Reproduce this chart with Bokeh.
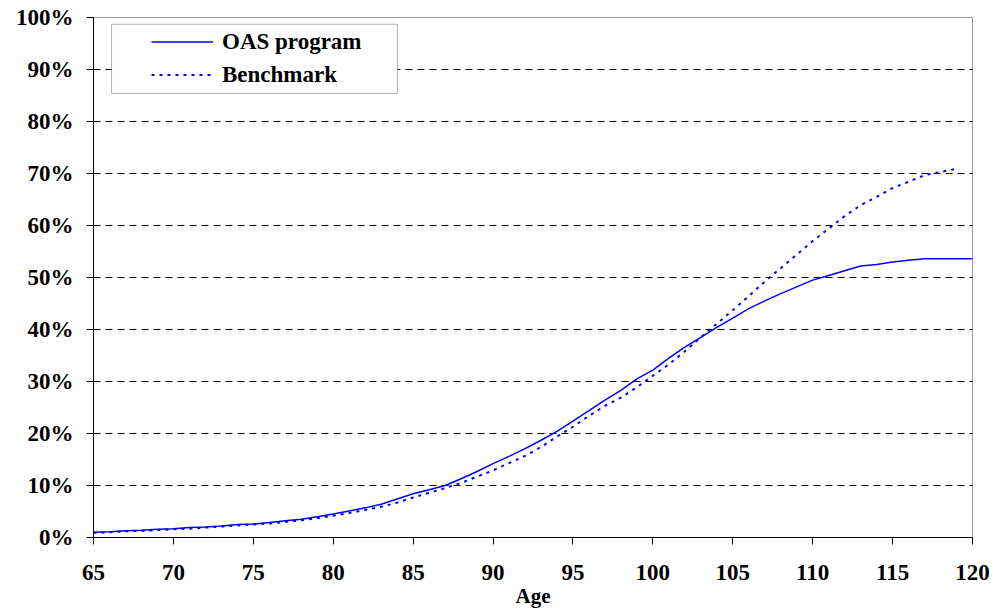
from bokeh.plotting import figure
from bokeh.models import Range1d, FixedTicker, PrintfTickFormatter, Legend, LegendItem, BoxAnnotation
from bokeh.embed import file_html
from bokeh.resources import INLINE

ages_oas = list(range(65, 121))
oas_program = [1.0, 1.1, 1.3, 1.4, 1.6, 1.7, 1.9, 2.0, 2.2, 2.5,
               2.6, 2.9, 3.2, 3.5, 4.0, 4.5, 5.1, 5.7, 6.4, 7.4,
               8.4, 9.2, 10.0, 11.3, 12.7, 14.2, 15.6, 17.1, 18.7, 20.4,
               22.4, 24.4, 26.4, 28.3, 30.5, 32.2, 34.5, 36.6, 38.5, 40.4,
               42.2, 44.0, 45.5, 46.9, 48.2, 49.5, 50.4, 51.3, 52.2, 52.5,
               53.0, 53.3, 53.6, 53.6, 53.6, 53.6]

ages_bench = list(range(65, 120))
benchmark = [0.9, 1.0, 1.2, 1.3, 1.4, 1.6, 1.7, 1.9, 2.1, 2.3,
             2.5, 2.7, 3.0, 3.3, 3.7, 4.2, 4.7, 5.3, 5.9, 6.7,
             7.7, 8.6, 9.5, 10.5, 11.7, 12.9, 14.3, 15.7, 17.4, 19.4,
             21.3, 23.4, 25.3, 26.9, 28.9, 31.1, 33.3, 35.8, 38.5, 41.1,
             43.7, 46.4, 49.2, 51.8, 54.4, 57.0, 59.4, 61.8, 63.9, 65.5,
             67.2, 68.4, 69.7, 70.3, 70.9]

x_ticks = list(range(65, 121, 5))
y_ticks = list(range(0, 101, 10))
series_names = ["OAS program", "Benchmark"]
x_title = "Age"

FONT = "'Liberation Serif'"
BLUE = "#0000FF"

p = figure(width=993, height=610, output_backend="svg", toolbar_location=None,
           x_range=Range1d(65, 120), y_range=Range1d(0, 100),
           min_border_left=93, min_border_right=21, min_border_top=17, min_border_bottom=73)
p.background_fill_color = "white"
p.border_fill_color = "white"
p.outline_line_color = "#999999"
p.outline_line_width = 1

# grid
p.xgrid.visible = False
p.ygrid.ticker = FixedTicker(ticks=y_ticks[1:-1])
p.ygrid.grid_line_color = "black"
p.ygrid.grid_line_dash = "7 5"
p.ygrid.grid_line_width = 1

# axes
for ax in (p.xaxis[0], p.yaxis[0]):
    ax.axis_line_color = "black"
    ax.axis_line_width = 1
    ax.major_tick_line_color = "black"
    ax.major_tick_out = 7
    ax.major_tick_in = 0
    ax.minor_tick_line_color = None
    ax.major_label_text_font = FONT
    ax.major_label_text_font_style = "bold"
    ax.major_label_text_font_size = "23px"
    ax.major_label_text_color = "black"

p.xaxis.ticker = FixedTicker(ticks=x_ticks)
p.yaxis.ticker = FixedTicker(ticks=y_ticks)
p.yaxis.formatter = PrintfTickFormatter(format="%d%%")
p.yaxis.major_label_standoff = 13
p.xaxis.major_label_standoff = 20
p.xaxis.axis_label = x_title
p.xaxis.axis_label_text_font = FONT
p.xaxis.axis_label_text_font_style = "bold"
p.xaxis.axis_label_text_font_size = "21px"
p.xaxis.axis_label_text_color = "black"
p.xaxis.axis_label_standoff = 1

r1 = p.line(ages_oas, oas_program, line_color=BLUE, line_width=1.5)
r2 = p.line(ages_bench, benchmark, line_color=BLUE, line_width=2, line_dash="3 5")

# legend frame
box = BoxAnnotation(left=66.13, right=84.02, bottom=85.4, top=98.7,
                    fill_color="white", fill_alpha=1.0,
                    line_color="black", line_width=1)
p.add_layout(box)

legend = Legend(items=[LegendItem(label=series_names[0], renderers=[r1]),
                       LegendItem(label=series_names[1], renderers=[r2])],
                location=(58, 446), padding=0, spacing=0, margin=0,
                glyph_width=62, glyph_height=33, label_height=33, label_standoff=9,
                label_text_font=FONT, label_text_font_style="bold",
                label_text_font_size="23px", label_text_color="black",
                border_line_alpha=0, background_fill_alpha=0)
p.add_layout(legend, "center")

open("out.html", "w").write(file_html(p, INLINE))
